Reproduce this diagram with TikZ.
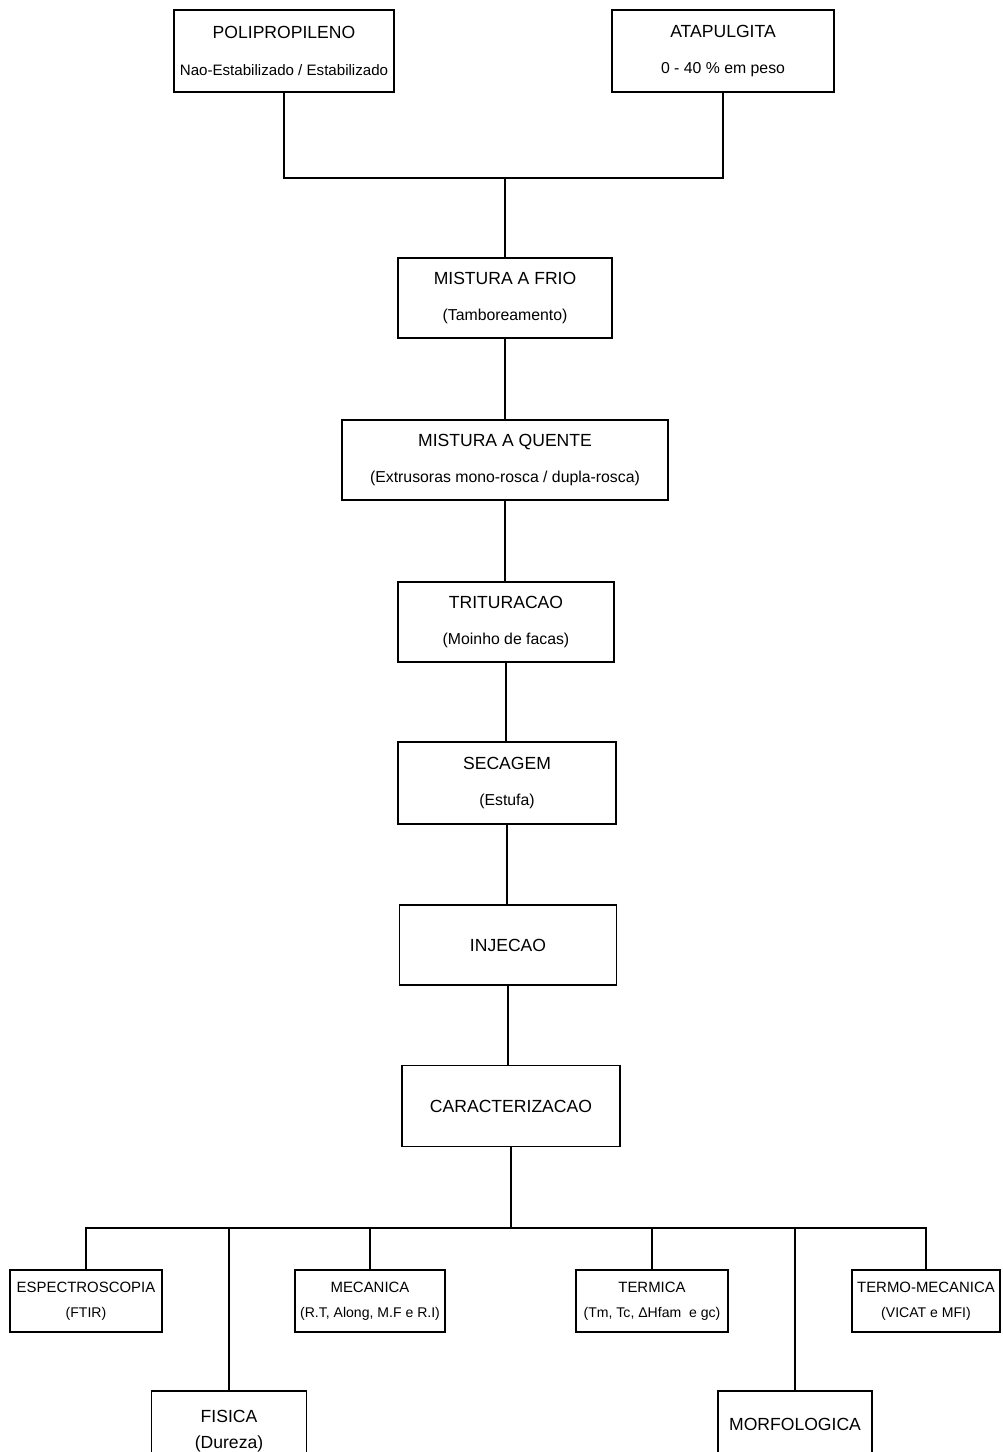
\documentclass[tikz,border=0pt]{standalone}
\usepackage{fontspec}
\setmainfont{Liberation Sans}
\newcommand{\detalhe}[1]{{\fontsize{9}{11}\selectfont #1}}
\newcommand{\miudo}[1]{{\fontsize{8}{9.5}\selectfont #1}}
\tikzset{
  caixa/.style={draw, line width=0.8pt, inner sep=1pt, minimum height=1.6cm, align=center, font=\fontsize{10}{12}\selectfont},
  caixinha/.style={caixa, minimum height=1.24cm, font=\fontsize{8.5}{10}\selectfont},
  ligacao/.style={line width=0.7pt}
}
\begin{document}
\begin{tikzpicture}[x=0.02cm, y=-0.02cm]
  \useasboundingbox (0,0) rectangle (1002,1452);
  \node[caixa, minimum width=4.4cm, minimum height=1.64cm] (pp) at (284,51) {POLIPROPILENO\\[9pt]{\fontsize{8.6}{10}\selectfont Nao-Estabilizado / Estabilizado}};
  \node[caixa, minimum width=4.44cm, minimum height=1.64cm] (atap) at (723,51) {ATAPULGITA\\[9pt]\detalhe{0 - 40 \% em peso}};
  \node[caixa, minimum width=4.28cm] (frio) at (505,298) {MISTURA A FRIO\\[9pt]\detalhe{(Tamboreamento)}};
  \node[caixa, minimum width=6.52cm] (quente) at (505,460) {MISTURA A QUENTE\\[9pt]\detalhe{(Extrusoras mono-rosca / dupla-rosca)}};
  \node[caixa, minimum width=4.32cm] (trit) at (506,622) {TRITURACAO\\[9pt]\detalhe{(Moinho de facas)}};
  \node[caixa, minimum width=4.36cm, minimum height=1.64cm] (sec) at (507,783) {SECAGEM\\[9pt]\detalhe{(Estufa)}};
  \node[caixa, minimum width=4.34cm] (inj) at (508,945) {INJECAO};
  \node[caixa, minimum width=4.36cm, minimum height=1.62cm] (carac) at (511,1106) {CARACTERIZACAO};
  \node[caixinha, minimum width=3.04cm] (espec) at (86,1301) {ESPECTROSCOPIA\\[4pt]\miudo{(FTIR)}};
  \node[caixinha, minimum width=3cm] (mec) at (370,1301) {MECANICA\\[4pt]\miudo{(R.T, Along, M.F e R.I)}};
  \node[caixinha, minimum width=3.04cm] (term) at (652,1301) {TERMICA\\[4pt]\miudo{(Tm, Tc, ΔHfam \ e gc)}};
  \node[caixinha, minimum width=2.96cm] (termec) at (926,1301) {TERMO-MECANICA\\[4pt]\miudo{(VICAT e MFI)}};
  \node[caixa, minimum width=3.1cm] (fis) at (229,1431) {FISICA\\[3pt](Dureza)};
  \node[caixa, minimum width=3.08cm, minimum height=1.32cm] (morf) at (795,1424) {MORFOLOGICA};
  \coordinate (juncao) at (505,178);
  \coordinate (barra) at (510,1228);
  \draw[ligacao] (pp) |- (juncao) -| (atap);
  \draw[ligacao] (juncao) -- (frio);
  \draw[ligacao] (frio.south) -- (frio.south |- quente.north);
  \draw[ligacao] (quente.south) -- (quente.south |- trit.north);
  \draw[ligacao] (trit.south) -- (trit.south |- sec.north);
  \draw[ligacao] (sec.south) -- (sec.south |- inj.north);
  \draw[ligacao] (inj.south) -- (inj.south |- carac.north);
  \draw[ligacao] (carac.south) -- (carac.south |- barra);
  \draw[ligacao] (espec) |- (barra) -| (termec);
  \draw[ligacao] (mec) -- (mec |- barra);
  \draw[ligacao] (fis) -- (fis |- barra);
  \draw[ligacao] (term) -- (term |- barra);
  \draw[ligacao] (morf) -- (morf |- barra);
\end{tikzpicture}
\end{document}
